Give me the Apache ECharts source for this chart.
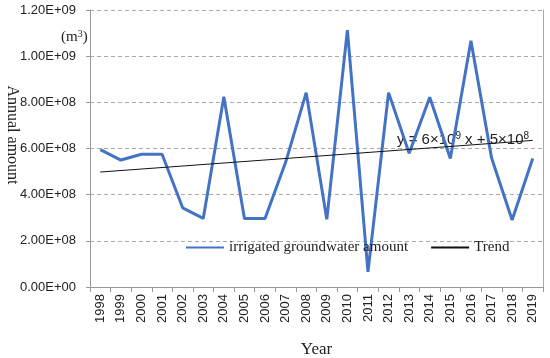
<!DOCTYPE html>
<html><head><meta charset="utf-8">
<script src="https://cdn.jsdelivr.net/npm/echarts@6/dist/echarts.min.js"></script>
<style>html,body{margin:0;padding:0;background:#fff}#c{width:550px;height:358px}</style>
</head><body><div id="c"></div>
<script>
const years = ['1998','1999','2000','2001','2002','2003','2004','2005','2006','2007','2008','2009','2010','2011','2012','2013','2014','2015','2016','2017','2018','2019'];
const groundwater = [5.95e8,5.50e8,5.75e8,5.75e8,3.43e8,2.97e8,8.24e8,2.97e8,2.97e8,5.40e8,8.42e8,2.93e8,1.113e9,0.66e8,8.42e8,5.79e8,8.22e8,5.57e8,1.067e9,5.60e8,2.90e8,5.57e8];
const trend = [4.98e8,null,null,null,null,null,null,null,null,null,null,null,null,null,null,null,null,null,null,null,null,6.35e8];
const yTicks = {min:0, max:1.2e9, interval:2e8};
const yName = 'Annual amount';

function fmt(v){
  const parts = v.toExponential(2).split('e');
  let e = parseInt(parts[1],10);
  const sign = e < 0 ? '-' : '+';
  e = Math.abs(e);
  return parts[0] + 'E' + sign + (e < 10 ? '0' + e : '' + e);
}
const sans = 'Liberation Sans, Arial, sans-serif';
const serif = 'Liberation Serif, Times New Roman, serif';
const chart = echarts.init(document.getElementById('c'));
chart.setOption({
  animation:false,
  grid:{left:90,right:7,top:10,bottom:71,outerBoundsMode:'none',containLabel:false},
  legend:{
    left:180, top:235, itemWidth:38, itemHeight:14, itemGap:22,
    itemStyle:{opacity:0},
    textStyle:{fontFamily:serif,fontSize:15,color:'#222'},
    data:[{name:'irrigated groundwater amount'},{name:'Trend'}]
  },
  xAxis:{
    type:'category', data:years, boundaryGap:true,
    axisLine:{lineStyle:{color:'#999'}},
    axisTick:{show:true,interval:0,length:5,lineStyle:{color:'#999'}},
    axisLabel:{interval:0,rotate:90,fontFamily:sans,fontSize:13,color:'#222',margin:7},
    name:'Year', nameLocation:'middle', nameGap:54,
    nameTextStyle:{fontFamily:serif,fontSize:17,color:'#222'}
  },
  yAxis:[{
    type:'value', min:yTicks.min, max:yTicks.max, interval:yTicks.interval,
    axisLine:{show:true,lineStyle:{color:'#999'}},
    axisTick:{show:true,length:4,lineStyle:{color:'#999'}},
    axisLabel:{formatter:fmt,fontFamily:sans,fontSize:13,color:'#222',margin:14},
    splitLine:{show:true,lineStyle:{type:[4,3],color:'#aaa'}}
  },{
    type:'value', position:'right', min:yTicks.min, max:yTicks.max, interval:yTicks.interval,
    axisLine:{show:true,lineStyle:{color:'#aaa'}},
    axisTick:{show:false}, axisLabel:{show:false}, splitLine:{show:false}
  }],
  series:[{
    name:'irrigated groundwater amount', type:'line', data:groundwater,
    symbol:'none', lineStyle:{color:'#4472C4',width:3}, itemStyle:{color:'#4472C4'}
  },{
    name:'Trend', type:'line', data:trend, connectNulls:true,
    symbol:'none', lineStyle:{color:'#111',width:1}, itemStyle:{color:'#111'}
  }],
  graphic:[{
    type:'text', x:12, y:135, rotation:-Math.PI/2,
    style:{text:yName, font:'16px ' + serif, fill:'#222', align:'center', verticalAlign:'middle'}
  },{
    type:'text', left:61, top:29,
    style:{
      text:'(m{s|3})',
      rich:{s:{fontSize:10,verticalAlign:'top',fontFamily:serif,fill:'#222',padding:[0,0,6,0]}},
      font:'15px ' + serif, fill:'#222'
    }
  },{
    type:'text', left:397, top:131,
    style:{
      text:'y = 6×10{s|9} x + 5×10{s|8}',
      rich:{s:{fontSize:10,fontFamily:sans,fill:'#222',padding:[0,0,8,0]}},
      font:'15px ' + sans, fill:'#222'
    }
  }]
});
</script></body></html>
